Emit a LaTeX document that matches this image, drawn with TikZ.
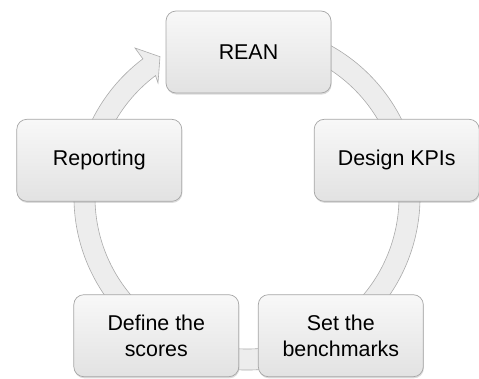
\documentclass[tikz,border=0pt]{standalone}
\usepackage{fontspec}
\setmainfont{Liberation Sans}
\usetikzlibrary{calc,shadows}
\definecolor{ringfill}{HTML}{EDEDED}
\definecolor{ringline}{HTML}{ABABAB}
\definecolor{boxline}{HTML}{A6A6A6}
\definecolor{boxtop}{HTML}{F8F8F8}
\definecolor{boxbot}{HTML}{E2E2E2}
\tikzset{
  stagebox/.style={draw=boxline, line width=0.7pt, rounded corners=10pt,
    top color=boxtop, bottom color=boxbot,
    minimum width=165pt, minimum height=82pt, inner sep=0pt,
    align=center, text=black,
    font=\fontsize{21.4}{26}\selectfont,
    drop shadow={opacity=0.28, shadow xshift=0.6pt, shadow yshift=-1.6pt}},
  ringband/.style={fill=ringfill, draw=ringline, line width=0.6pt, line join=miter}
}
\begin{document}
\begin{tikzpicture}[x=1pt,y=1pt]
\useasboundingbox (0,0) rectangle (479,-378);
\coordinate (c) at (247,-197);
% ring with arrowhead
\coordinate (tipA) at (135,-48);
\coordinate (tip) at (160,-56.7);
\coordinate (tipB) at (158,-83);
\draw[ringband] ($(c)+(75:173)$) arc[start angle=75, end angle=-233, radius=173]
  -- (tipA) -- (tip) -- (tipB)
  -- ($(c)+(127:152)$) arc[start angle=-233, end angle=75, radius=152] -- cycle;
% stages
\node[stagebox] (rean) at (248.5,-52) {REAN};
\node[stagebox] (kpi) at (396.7,-160.3) {Design KPIs};
\node[stagebox] (bench) at (340.8,-335.7) {Set the\\benchmarks};
\node[stagebox] (scores) at (156.3,-335.7) {Define the\\scores};
\node[stagebox] (report) at (99.3,-160.3) {Reporting};
\end{tikzpicture}
\end{document}
